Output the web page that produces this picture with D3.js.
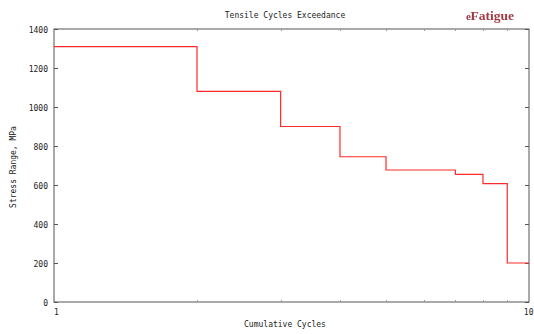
<!DOCTYPE html>
<html>
<head>
<meta charset="utf-8">
<script src="https://cdn.jsdelivr.net/npm/d3@7"></script>
<style>
  html, body { margin: 0; padding: 0; background: #fff; overflow: hidden; }
  svg { display: block; }
  text { font-family: "DejaVu Sans Mono", monospace; fill: #222; }
</style>
</head>
<body>
<svg id="chart" width="534" height="334"></svg>
<script>
// Cycle thresholds (start of each stress block) and the stress range held over it
const cycleEdges = [1, 2, 3, 4, 5, 7, 8, 9, 10];
const stressLevels = [1310, 1080, 900, 745, 677, 655, 607, 200];
const yTickValues = [0, 200, 400, 600, 800, 1000, 1200, 1400];
const xMinorTicks = [2, 3, 4, 5, 6, 7, 8, 9];
const xTickLabels = [1, 10];

const W = 534, H = 334;
const m = { left: 54, right: 5, top: 29, bottom: 32 };
const svg = d3.select("#chart");

const x = d3.scaleLog().domain([1, 10]).range([m.left, W - m.right]);
const y = d3.scaleLinear().domain([0, 1400]).range([H - m.bottom, m.top]);

// Frame
svg.append("rect")
  .attr("x", x(1)).attr("y", y(1400))
  .attr("width", x(10) - x(1)).attr("height", y(0) - y(1400))
  .attr("fill", "none").attr("stroke", "#555").attr("stroke-width", 1);

// Y ticks on both sides, pointing inward
yTickValues.forEach(v => {
  const yy = Math.round(y(v)) + 0.5;
  svg.append("line").attr("x1", x(1)).attr("x2", x(1) + 4).attr("y1", yy).attr("y2", yy)
    .attr("stroke", "#555");
  svg.append("line").attr("x1", x(10) - 4).attr("x2", x(10)).attr("y1", yy).attr("y2", yy)
    .attr("stroke", "#555");
  svg.append("text").attr("x", x(1) - 6).attr("y", yy + 3)
    .attr("text-anchor", "end").attr("font-size", 8).text(v);
});

// X minor ticks, top and bottom
xMinorTicks.forEach(v => {
  const xx = Math.round(x(v)) + 0.5;
  svg.append("line").attr("x1", xx).attr("x2", xx).attr("y1", y(0)).attr("y2", y(0) - 2)
    .attr("stroke", "#999");
  svg.append("line").attr("x1", xx).attr("x2", xx).attr("y1", y(1400)).attr("y2", y(1400) + 2)
    .attr("stroke", "#999");
});

// Decade labels; the right one is pulled in to stay on the canvas
xTickLabels.forEach(v => {
  const first = v === 1;
  svg.append("text").attr("x", first ? x(v) : W - 0.5).attr("y", y(0) + 13)
    .attr("text-anchor", first ? "start" : "end").attr("font-size", 8).text(v);
});

// Stepped exceedance line
const pts = [];
stressLevels.forEach((s, i) => {
  pts.push([cycleEdges[i], s]);
  pts.push([cycleEdges[i + 1], s]);
});
const line = d3.line().x(d => x(d[0])).y(d => y(d[1]));
svg.append("path").datum(pts)
  .attr("d", line)
  .attr("fill", "none").attr("stroke", "#ff2a2a").attr("stroke-width", 1.2);

// Titles
svg.append("text").attr("x", 285).attr("y", 18).attr("text-anchor", "middle")
  .attr("font-size", 8).text("Tensile Cycles Exceedance");
svg.append("text").attr("x", 285).attr("y", 327).attr("text-anchor", "middle")
  .attr("font-size", 8).text("Cumulative Cycles");
svg.append("text").attr("transform", "translate(16,167) rotate(-90)")
  .attr("text-anchor", "middle").attr("font-size", 8).text("Stress Range, MPa");

// Brand mark
const logo = svg.append("text").attr("x", 466).attr("y", 20)
  .style("font-family", "'Liberation Serif', serif").style("font-weight", "bold")
  .style("fill", "#a33a44").style("filter", "blur(0.4px)");
logo.append("tspan").attr("font-size", 11).text("e");
logo.append("tspan").attr("font-size", 13.5).attr("dx", -0.5).text("Fatigue");
</script>
</body>
</html>
